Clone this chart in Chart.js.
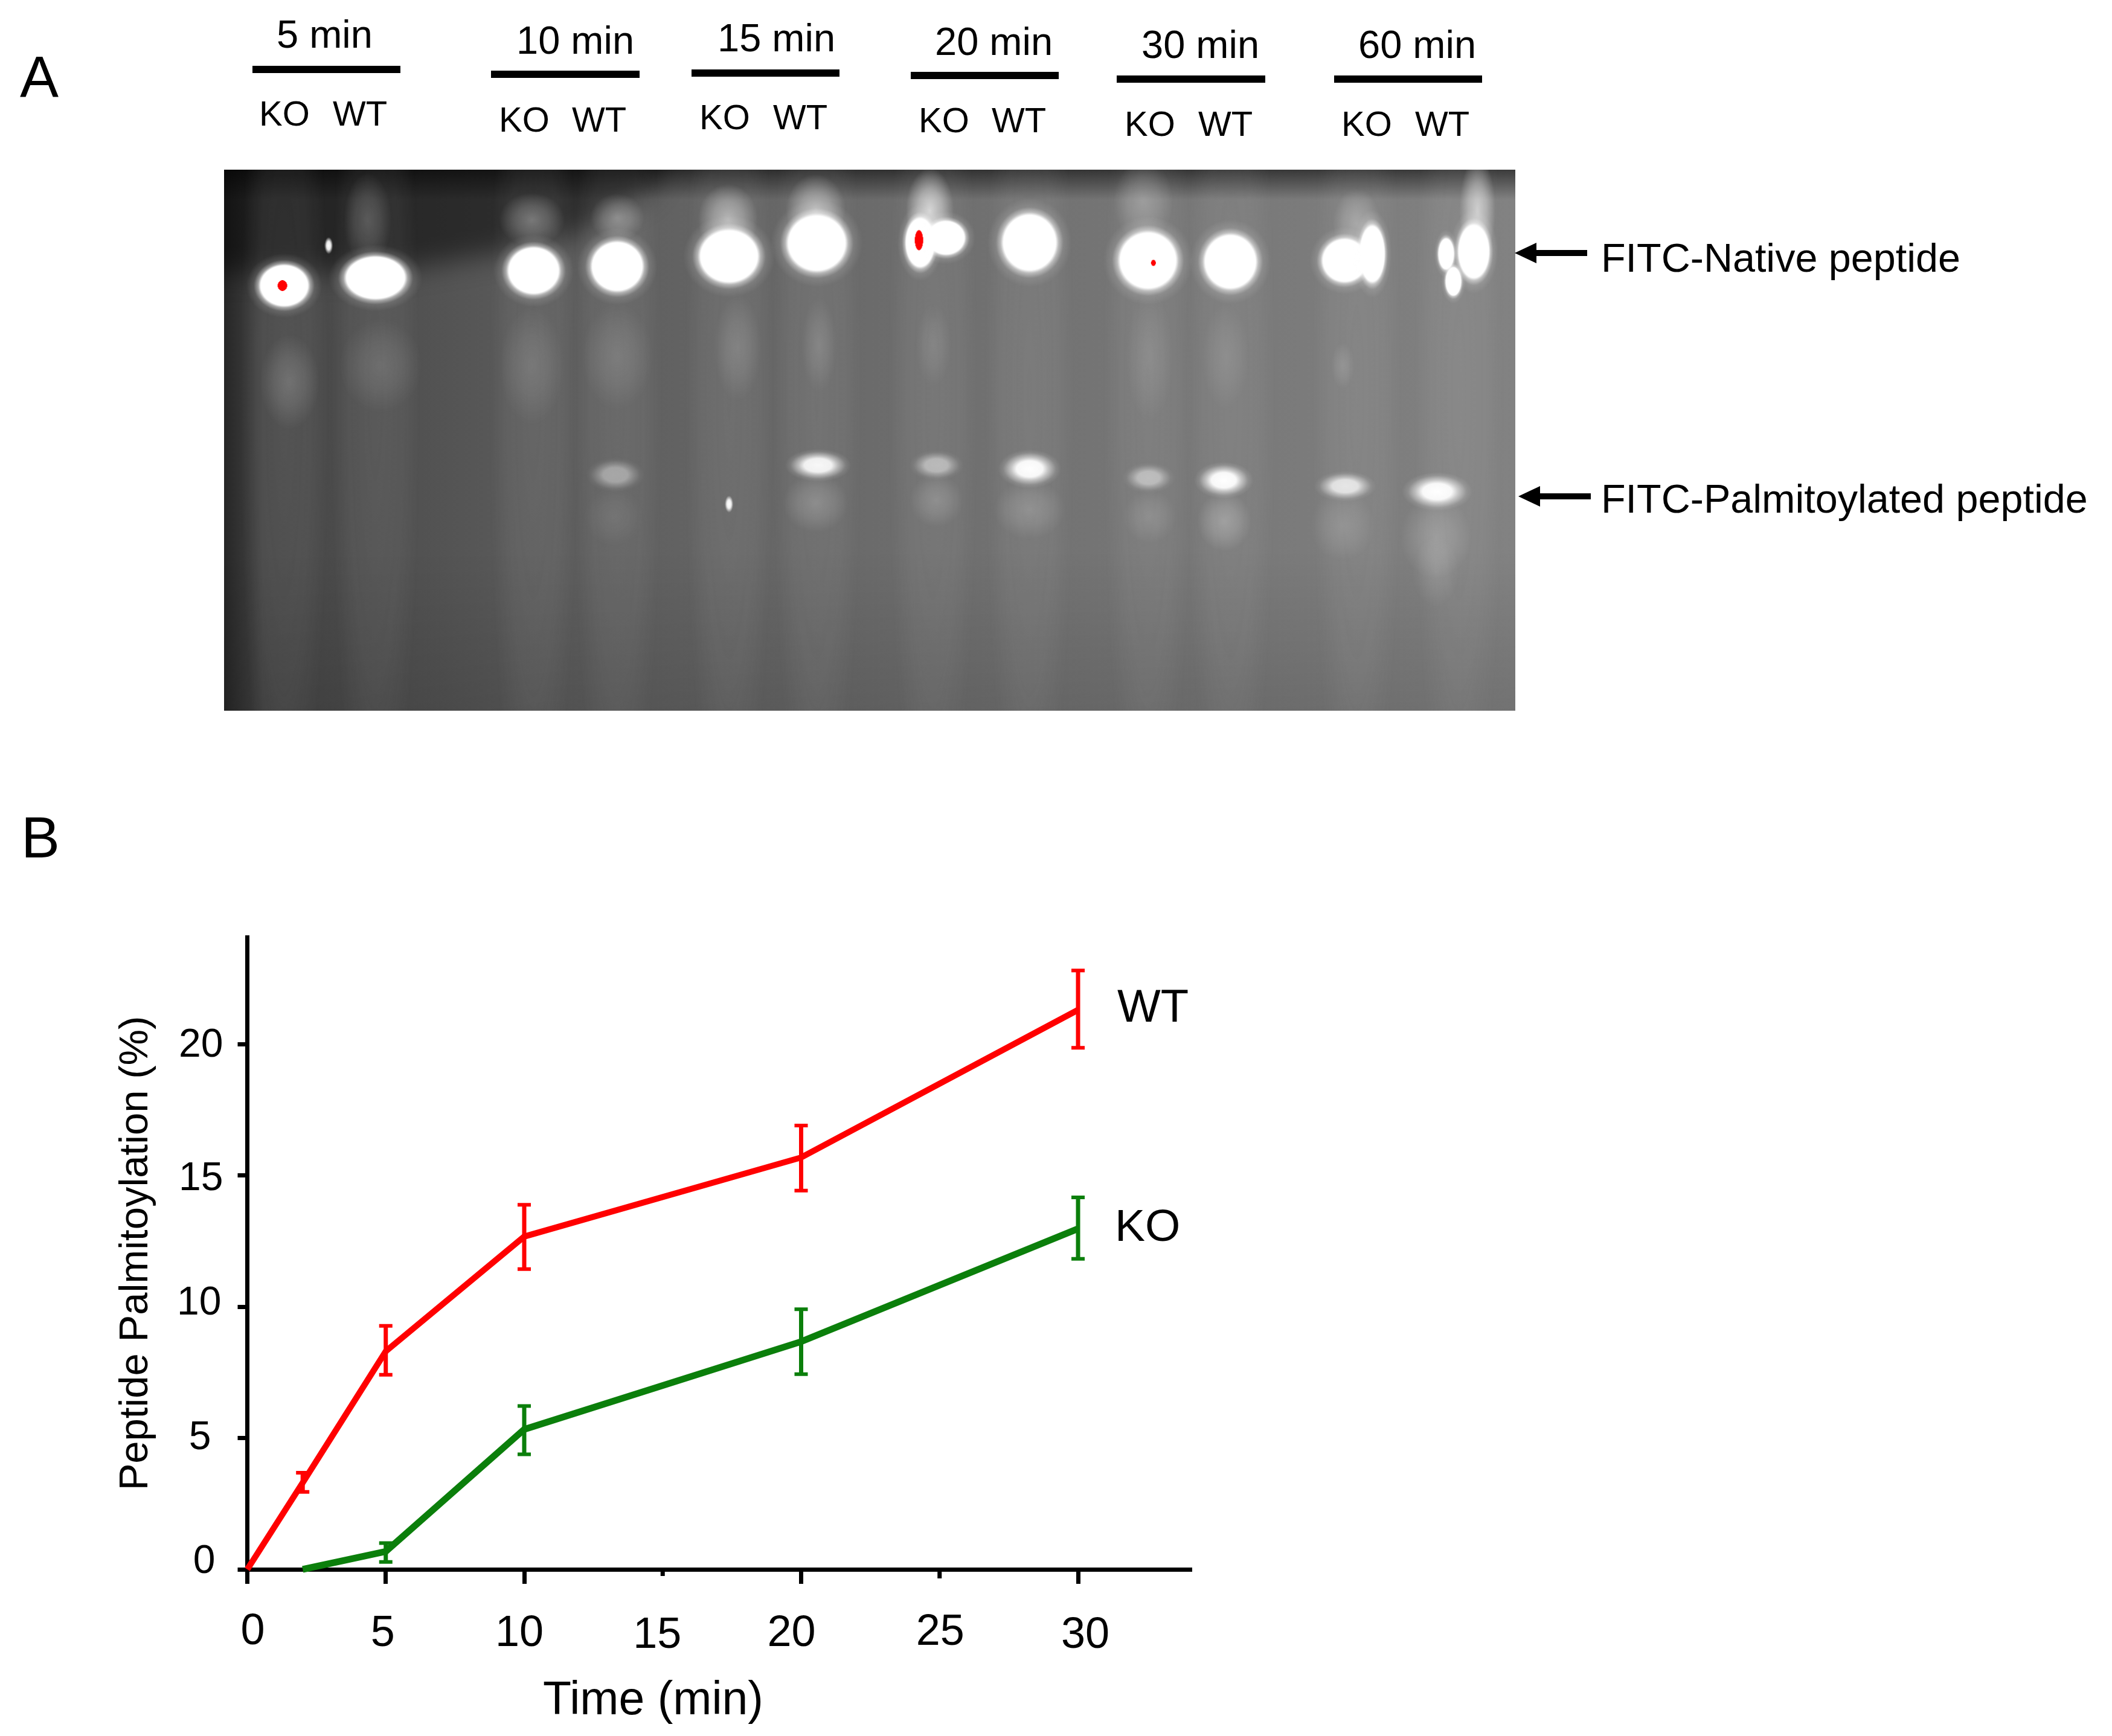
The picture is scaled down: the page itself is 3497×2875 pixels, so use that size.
<!DOCTYPE html>
<html>
<head>
	<meta charset="utf-8">
	<title>Peptide palmitoylation</title>
	<script src="https://cdn.jsdelivr.net/npm/chart.js@4"></script>
	<style>
		html, body { margin: 0; padding: 0; background: #fff; }
		#page { position: relative; width: 3497px; height: 2875px; overflow: hidden; font-family: "Liberation Sans", Arial, sans-serif; color: #000; }
		#page canvas { position: absolute; }
		.txt { position: absolute; white-space: nowrap; line-height: 1; }
		.bar { position: absolute; background: #000; }
		.head { position: absolute; width: 0; height: 0; border-style: solid; border-color: transparent #000 transparent transparent; }
	</style>
</head>
<body>
	<div id="page">
		<canvas id="gel" width="2138" height="896" style="left:371px;top:281px;width:2138px;height:896px"></canvas>
		<canvas id="graph" width="2100" height="1375" style="left:0;top:1500px;width:2100px;height:1375px"></canvas>
	</div>

	<script>
		// Panel B : palmitoylation curves
		var wtTimes = [0, 2, 5, 10, 20, 30];
		var wtValues = [0, 3.3, 8.3, 12.67, 15.68, 21.3];
		var wtHigh = [null, 3.68, 9.27, 13.88, 16.9, 22.8];
		var wtLow = [null, 2.95, 7.41, 11.43, 14.42, 19.86];

		var koTimes = [2, 5, 10, 20, 30];
		var koValues = [0, 0.68, 5.33, 8.67, 12.97];
		var koHigh = [null, 1.0, 6.22, 9.9, 14.16];
		var koLow = [null, 0.28, 4.38, 7.43, 11.82];

		var xTickValues = [0, 5, 10, 15, 20, 25, 30];
		var yTickValues = [0, 5, 10, 15, 20];

		// the tick labels of the figure were placed by hand, nudge them the same way
		var xLabelNudgeX = [9, -5, -8, -9, -16, 1, 12];
		var xLabelNudgeY = [-3, 0, 0, 3, 0, -2, 3];
		var yLabelNudgeX = [-13, -20, -3, 0, 0];
		var yLabelNudgeY = [-12, 0, -5, 6, 3];

		// Panel A : gel bands, lane position and migration
		var nativeX = [466, 618, 881, 1020, 1206, 1352, 1524, 1567, 1706, 1903, 2040, 2230, 2276, 2445, 2399, 2411];
		var nativeY = [470, 457, 445, 438, 421, 399, 398, 390, 398, 428, 430, 428, 417, 413, 417, 463];
		var nativeW = [72, 89, 76, 76, 87, 87, 43, 56, 80, 85, 77, 66, 37, 46, 23, 23];
		var nativeH = [61, 63, 69, 73, 78, 83, 73, 50, 84, 84, 80, 64, 84, 80, 46, 42];

		var palmX = [1017, 1354, 1551, 1706, 1904, 2029, 2231, 2384];
		var palmY = [787, 771, 771, 777, 792, 796, 806, 815];
		var palmW = [58, 65, 54, 62, 52, 58, 61, 69];
		var palmH = [34, 32, 30, 38, 30, 36, 30, 38];
		var palmLevel = [0.42, 0.95, 0.5, 1, 0.5, 1, 0.8, 1];

		var smearX = [475, 627, 878, 1020, 1220, 1356, 1546, 1906, 2032, 2227, 605, 878, 1020, 1204, 1350, 1540, 1895, 2250, 2451, 1350, 1551, 1706, 1906, 2030, 2227, 2382, 2382, 1014];
		var smearY = [631, 604, 604, 589, 574, 570, 570, 589, 589, 604, 360, 360, 356, 360, 344, 344, 329, 367, 344, 834, 830, 845, 857, 865, 872, 891, 949, 857];
		var smearW = [50, 70, 55, 60, 40, 30, 30, 40, 40, 20, 40, 55, 45, 50, 50, 40, 50, 40, 30, 55, 45, 60, 45, 45, 55, 60, 40, 50];
		var smearH = [80, 80, 100, 90, 90, 80, 70, 110, 90, 40, 80, 45, 40, 60, 60, 70, 70, 60, 90, 50, 45, 50, 45, 50, 60, 70, 60, 50];
		var smearLevel = [0.18, 0.13, 0.13, 0.13, 0.15, 0.14, 0.11, 0.11, 0.11, 0.14, 0.2, 0.32, 0.32, 0.5, 0.5, 0.7, 0.25, 0.3, 0.6, 0.2, 0.18, 0.18, 0.14, 0.26, 0.14, 0.2, 0.12, 0.08];

		var laneX = [466, 618, 881, 1020, 1206, 1352, 1545, 1706, 1903, 2040, 2250, 2420];

		var spotX = [463, 1522, 1912];
		var spotY = [470, 394, 432];
		var spotW = [16, 14, 8];
		var spotH = [18, 34, 10];

		var speckX = [1206, 540];
		var speckY = [836, 403];

		// Labels around the gel : text, left edge, baseline, font size
		var timeLabels = [
			["5 min", 458, 79], ["10 min", 855, 89], ["15 min", 1188, 85],
			["20 min", 1548, 91], ["30 min", 1890, 96], ["60 min", 2249, 96]
		];
		var timeBars = [
			[418, 109, 245], [813, 117, 246], [1145, 115, 245],
			[1508, 119, 245], [1849, 125, 246], [2209, 125, 245]
		];
		var genoLabels = [
			[429, 551, 208], [826, 947, 218], [1158, 1280, 214],
			[1521, 1642, 219], [1862, 1984, 225], [2221, 2343, 225]
		];
		var freeLabels = [
			["A", 33, 160, 96],
			["B", 35, 1420, 96],
			["FITC-Native peptide", 2651, 450, 66.5],
			["FITC-Palmitoylated peptide", 2651, 849, 66.5],
			["Time (min)", 899, 2839, 77],
			["WT", 1850, 1692, 76],
			["KO", 1846, 2055, 75]
		];
		var arrows = [[2508, 419], [2514, 822]];

		var page = document.getElementById("page");

		function addText(text, x, baseline, size) {
			var s = document.createElement("span");
			s.className = "txt";
			s.textContent = text;
			s.style.left = x + "px";
			s.style.top = (baseline - 0.8465 * size) + "px";
			s.style.fontSize = size + "px";
			page.appendChild(s);
		}

		function addBar(x, y, w, h) {
			var d = document.createElement("div");
			d.className = "bar";
			d.style.cssText = "left:" + x + "px;top:" + y + "px;width:" + w + "px;height:" + h + "px";
			page.appendChild(d);
		}

		timeLabels.forEach(function(l) { addText(l[0], l[1], l[2], 65); });
		timeBars.forEach(function(b) { addBar(b[0], b[1], b[2], 12); });
		genoLabels.forEach(function(g) {
			addText("KO", g[0], g[2], 58);
			addText("WT", g[1], g[2], 58);
		});
		freeLabels.forEach(function(l) { addText(l[0], l[1], l[2], l[3]); });
		arrows.forEach(function(a) {
			addBar(a[0] + 30, a[1] - 5, 90, 10);
			var h = document.createElement("div");
			h.className = "head";
			h.style.cssText = "left:" + a[0] + "px;top:" + (a[1] - 17) + "px;border-width:17px 36px 17px 0";
			page.appendChild(h);
		});

		// soft elliptical blob used as point image on the gel
		function blob(w, h, stops, rgb) {
			var c = document.createElement("canvas");
			c.width = Math.ceil(w * 2);
			c.height = Math.ceil(h * 2);
			var g = c.getContext("2d");
			g.scale(c.width / 2, c.height / 2);
			var grad = g.createRadialGradient(1, 1, 0, 1, 1, 1);
			stops.forEach(function(s) {
				grad.addColorStop(s[0], "rgba(" + rgb + "," + s[1] + ")");
			});
			g.fillStyle = grad;
			g.fillRect(0, 0, 2, 2);
			return c;
		}

		function bandSprites(ws, hs, stopsFor, rgb) {
			return ws.map(function(w, i) { return blob(w, hs[i], stopsFor(i), rgb); });
		}

		var nativeSprites = bandSprites(nativeW, nativeH, function() {
			return [[0, 1], [0.54, 1], [0.6, 0.5], [0.7, 0.12], [0.88, 0]];
		}, "255,255,255");
		var palmSprites = bandSprites(palmW, palmH, function(i) {
			var p = palmLevel[i];
			return [[0, p], [0.35, p * 0.95], [0.5, p * 0.55], [0.7, p * 0.12], [0.85, 0]];
		}, "255,255,255");
		var smearSprites = bandSprites(smearW, smearH, function(i) {
			var p = smearLevel[i];
			return [[0, p], [0.5, p * 0.6], [1, 0]];
		}, "255,255,255");
		var laneSprites = laneX.map(function() {
			return blob(75, 820, [[0, 0.07], [0.6, 0.05], [1, 0]], "255,255,255");
		});
		var spotSprites = bandSprites(spotW, spotH, function() {
			return [[0, 1], [0.48, 1], [0.5, 0]];
		}, "255,0,0");
		var speckSprite = blob(7, 14, [[0, 1], [0.5, 0.9], [1, 0]], "255,255,255");

		function zip(xs, ys) {
			return xs.map(function(x, i) { return { x: x, y: ys[i] }; });
		}

		function gelSet(label, data, sprite) {
			return { label: label, data: data, showLine: false, pointRadius: 3, clip: false, pointStyle: sprite };
		}

		var gelBackground = {
			id: "gelBackground",
			beforeDatasetsDraw: function(chart) {
				var c = chart.ctx, w = chart.width, h = chart.height;
				c.save();
				var base = c.createLinearGradient(0, 0, w, 0);
				base.addColorStop(0, "#262626");
				base.addColorStop(0.03, "#454545");
				base.addColorStop(0.25, "#5c5c5c");
				base.addColorStop(0.6, "#717171");
				base.addColorStop(1, "#828282");
				c.fillStyle = base;
				c.fillRect(0, 0, w, h);

				var bottom = c.createLinearGradient(0, h * 0.7, 0, h);
				bottom.addColorStop(0, "rgba(0,0,0,0)");
				bottom.addColorStop(1, "rgba(0,0,0,0.12)");
				c.fillStyle = bottom;
				c.fillRect(0, 0, w, h);

				// dark well region, top left
				c.filter = "blur(22px)";
				c.fillStyle = "rgba(0,0,0,0.5)";
				c.beginPath();
				c.moveTo(-60, -60);
				c.lineTo(760, -60);
				c.lineTo(700, 40);
				c.lineTo(560, 120);
				c.lineTo(270, 170);
				c.lineTo(-60, 170);
				c.closePath();
				c.fill();
				c.filter = "none";

				// dark strip along the top edge
				var strip = c.createLinearGradient(0, 0, 0, 50);
				strip.addColorStop(0, "rgba(0,0,0,0.55)");
				strip.addColorStop(1, "rgba(0,0,0,0)");
				c.fillStyle = strip;
				c.fillRect(0, 0, w, 50);
				c.restore();
			}
		};

		new Chart(document.getElementById("gel"), {
			type: "scatter",
			data: {
				datasets: [
					gelSet("Red spots", zip(spotX, spotY), function(ctx) { return spotSprites[ctx.dataIndex]; }),
					gelSet("Specks", zip(speckX, speckY), function() { return speckSprite; }),
					gelSet("FITC-Native peptide", zip(nativeX, nativeY), function(ctx) { return nativeSprites[ctx.dataIndex]; }),
					gelSet("FITC-Palmitoylated peptide", zip(palmX, palmY), function(ctx) { return palmSprites[ctx.dataIndex]; }),
					gelSet("Smears", zip(smearX, smearY), function(ctx) { return smearSprites[ctx.dataIndex]; }),
					gelSet("Lanes", laneX.map(function(x) { return { x: x, y: 650 }; }), function(ctx) { return laneSprites[ctx.dataIndex]; })
				]
			},
			options: {
				responsive: false,
				animation: false,
				devicePixelRatio: 1,
				layout: { padding: 0 },
				plugins: { legend: { display: false }, tooltip: { enabled: false } },
				scales: {
					x: { type: "linear", display: false, min: 371, max: 2509 },
					y: { type: "linear", display: false, min: 281, max: 1177, reverse: true }
				}
			},
			plugins: [gelBackground]
		});

		// moves the tick labels by the nudge lists above
		var labelNudge = {
			id: "labelNudge",
			beforeDraw: function(chart) {
				[[chart.scales.x, xLabelNudgeX, xLabelNudgeY], [chart.scales.y, yLabelNudgeX, yLabelNudgeY]].forEach(function(a) {
					a[0].getLabelItems().forEach(function(item, i) {
						if (item.nudged) return;
						item.options.translation[0] += a[1][i];
						item.options.translation[1] += a[2][i];
						item.nudged = true;
					});
				});
			}
		};

		// error bars, and the two short x ticks
		var errorBars = {
			id: "errorBars",
			afterDatasetsDraw: function(chart) {
				var c = chart.ctx, xs = chart.scales.x, ys = chart.scales.y;
				var sets = [
					{ t: wtTimes, hi: wtHigh, lo: wtLow, col: "#ff0000" },
					{ t: koTimes, hi: koHigh, lo: koLow, col: "#0b7f0b" }
				];
				c.save();
				sets.forEach(function(s) {
					c.strokeStyle = s.col;
					s.t.forEach(function(t, i) {
						if (s.hi[i] === null) return;
						var x = xs.getPixelForValue(t);
						var a = ys.getPixelForValue(s.hi[i]);
						var b = ys.getPixelForValue(s.lo[i]);
						c.lineWidth = 7;
						c.beginPath();
						c.moveTo(x, a);
						c.lineTo(x, b);
						c.stroke();
						c.lineWidth = 6;
						c.beginPath();
						c.moveTo(x - 11, a);
						c.lineTo(x + 11, a);
						c.moveTo(x - 11, b);
						c.lineTo(x + 11, b);
						c.stroke();
					});
				});
				c.strokeStyle = "#000";
				c.lineWidth = 7;
				[15, 25].forEach(function(v) {
					var x = xs.getPixelForValue(v);
					c.beginPath();
					c.moveTo(x, ys.bottom);
					c.lineTo(x, ys.bottom + (v === 15 ? 11 : 15));
					c.stroke();
				});
				c.restore();
			}
		};

		new Chart(document.getElementById("graph"), {
			type: "scatter",
			data: {
				datasets: [
					{
						label: "WT",
						data: zip(wtTimes, wtValues),
						showLine: true,
						borderColor: "#ff0000",
						borderWidth: 10,
						pointRadius: 0,
						tension: 0,
						clip: false
					},
					{
						label: "KO",
						data: zip(koTimes, koValues),
						showLine: true,
						borderColor: "#0b7f0b",
						borderWidth: 11,
						pointRadius: 0,
						tension: 0,
						clip: false
					}
				]
			},
			options: {
				responsive: false,
				animation: false,
				devicePixelRatio: 1,
				layout: { padding: { left: 0, right: 127, top: 52, bottom: 0 } },
				plugins: { legend: { display: false }, tooltip: { enabled: false } },
				scales: {
					x: {
						type: "linear",
						min: 0,
						max: 34.1,
						afterBuildTicks: function(s) {
							s.ticks = xTickValues.map(function(v) { return { value: v }; });
						},
						afterFit: function(s) {
							s.height = 276;
							s.paddingLeft = 0;
							s.paddingRight = 0;
						},
						border: { color: "#000", width: 7 },
						grid: {
							drawOnChartArea: false,
							tickLength: 24,
							tickWidth: 7,
							tickColor: function(ctx) {
								return (ctx.tick && (ctx.tick.value === 15 || ctx.tick.value === 25)) ? "rgba(0,0,0,0)" : "#000";
							}
						},
						ticks: {
							maxRotation: 0,
							autoSkip: false,
							padding: 40,
							color: "#000",
							font: { family: "Liberation Sans", size: 72 }
						}
					},
					y: {
						type: "linear",
						min: 0,
						max: 24.07,
						afterBuildTicks: function(s) {
							s.ticks = yTickValues.map(function(v) { return { value: v }; });
						},
						afterFit: function(s) {
							s.width = 409.5;
							s.paddingTop = 0;
							s.paddingBottom = 0;
						},
						border: { color: "#000", width: 7 },
						grid: { drawOnChartArea: false, tickLength: 16, tickWidth: 7, tickColor: "#000" },
						ticks: {
							padding: 24,
							color: "#000",
							font: { family: "Liberation Sans", size: 66 }
						},
						title: {
							display: true,
							text: "Peptide Palmitoylation (%)",
							color: "#000",
							padding: { top: 185, bottom: 0 },
							font: { family: "Liberation Sans", size: 67, lineHeight: 1.2 }
						}
					}
				}
			},
			plugins: [labelNudge, errorBars]
		});
	</script>
</body>
</html>
